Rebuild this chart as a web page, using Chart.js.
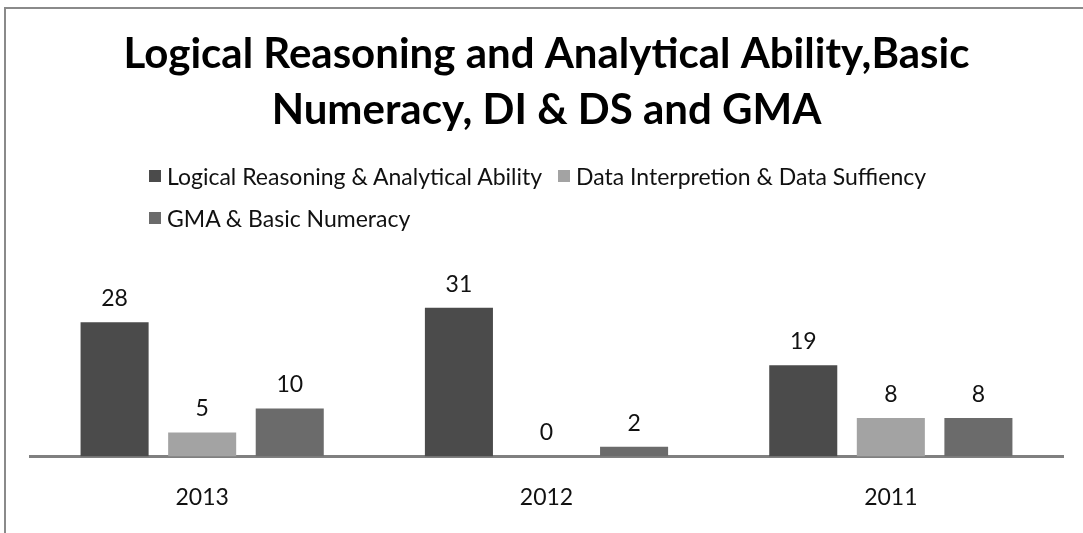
<!DOCTYPE html>
<html>
<head>
<meta charset="utf-8">
<script src="https://cdn.jsdelivr.net/npm/chart.js@4"></script>
<style>
  html, body { margin: 0; padding: 0; background: #fff; overflow: hidden; }
  #wrap { position: relative; width: 1083px; height: 533px; }
  #frame {
    position: absolute; left: 4px; top: 7px; width: 1200px; height: 600px;
    border-left: 2px solid #8a8a8a; border-top: 2px solid #8a8a8a;
    pointer-events: none;
  }
  #legend {
    position: absolute; left: 149px; top: 155px; width: 850px;
    font-family: Lato, "Open Sans", sans-serif; font-size: 23px; color: #111;
  }
  .leg-item { display: inline-flex; align-items: center; height: 42px; margin-right: 10px; }
  .leg-box { width: 12px; height: 12px; margin-right: 6px; }
</style>
</head>
<body>
<div id="wrap">
  <canvas id="chart" width="1083" height="533"></canvas>
  <div id="legend"></div>
  <div id="frame"></div>
</div>
<script>
const years = ['2013', '2012', '2011'];
const logicalReasoning = [28, 31, 19];
const dataInterpretation = [5, 0, 8];
const gmaNumeracy = [10, 2, 8];
const seriesNames = [
  'Logical Reasoning & Analytical Ability',
  'Data Interpretion & Data Suffiency',
  'GMA & Basic Numeracy'
];
const seriesColors = ['#4b4b4b', '#a3a3a3', '#6b6b6b'];
const titleLines = ['Logical Reasoning and Analytical Ability,Basic', 'Numeracy, DI & DS and GMA'];

const FONT = "Lato, 'Open Sans', sans-serif";

// draws the number above each bar
const valueLabels = {
  id: 'valueLabels',
  afterDatasetsDraw(chart) {
    const ctx = chart.ctx;
    ctx.save();
    ctx.font = '23px ' + FONT;
    ctx.fillStyle = '#111';
    ctx.textAlign = 'center';
    ctx.textBaseline = 'alphabetic';
    chart.data.datasets.forEach((ds, i) => {
      chart.getDatasetMeta(i).data.forEach((bar, j) => {
        ctx.fillText(String(ds.data[j]), bar.x, bar.y - 16);
      });
    });
    ctx.restore();
  }
};

const datasets = [logicalReasoning, dataInterpretation, gmaNumeracy].map((values, i) => ({
  label: seriesNames[i],
  data: values,
  backgroundColor: seriesColors[i],
  borderWidth: 0,
  categoryPercentage: 0.763,
  barPercentage: 0.777
}));

const chart = new Chart(document.getElementById('chart'), {
  type: 'bar',
  data: { labels: years, datasets: datasets },
  options: {
    responsive: false,
    animation: false,
    layout: { padding: { left: 30, right: 20, top: 0, bottom: -5 } },
    plugins: {
      legend: { display: false },
      tooltip: { enabled: false },
      title: {
        display: true,
        text: titleLines,
        color: '#000',
        font: { family: FONT, size: 42, weight: 'bold', lineHeight: 1.33 },
        padding: { top: 27, bottom: 126 }
      }
    },
    scales: {
      x: {
        grid: { display: false, drawTicks: false },
        border: { display: true, color: '#808080', width: 3 },
        ticks: { color: '#111', font: { family: FONT, size: 23 }, padding: 27 }
      },
      y: {
        display: false,
        min: 0,
        max: 40
      }
    }
  },
  plugins: [valueLabels]
});

// html legend built from the chart datasets
document.getElementById('legend').innerHTML = chart.data.datasets
  .map(ds => `
    <span class="leg-item">
      <span class="leg-box" style="background:${ds.backgroundColor}"></span>
      <span>${ds.label}</span>
    </span>`)
  .join('');
</script>
</body>
</html>
